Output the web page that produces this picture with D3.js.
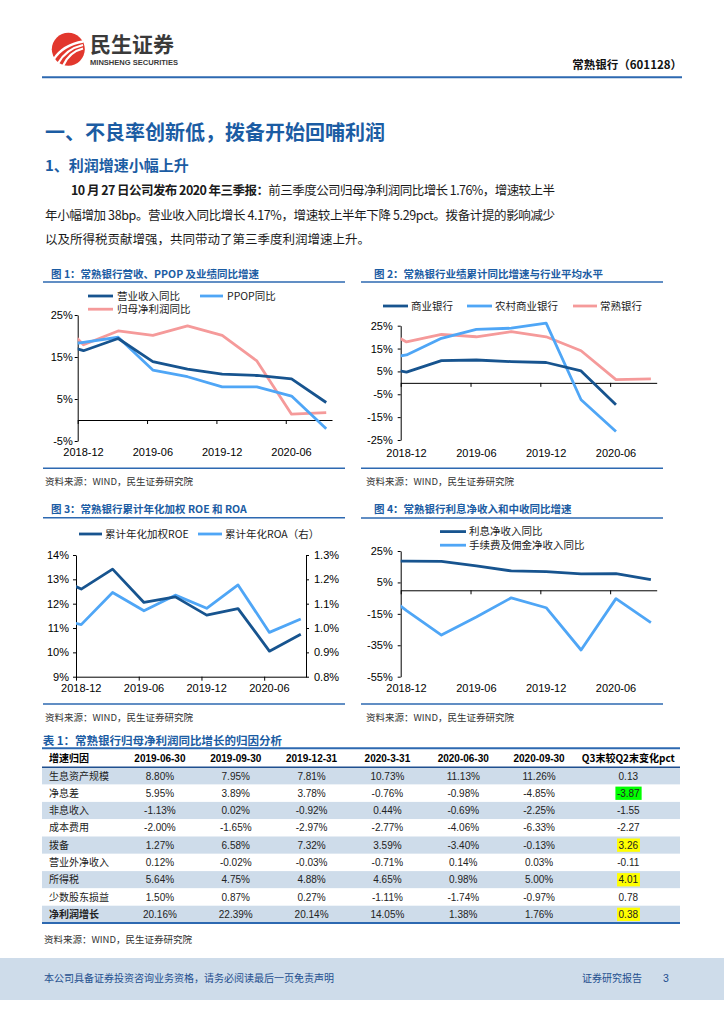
<!DOCTYPE html>
<html><head><meta charset="utf-8">
<script src="https://cdn.jsdelivr.net/npm/d3@7"></script>
<style>
html,body{margin:0;padding:0;background:#fff;}
svg{display:block;}
</style></head><body>
<svg id="page" width="724" height="1024"></svg>
<script>
// ---------------- DATA ----------------
const quarters = ["2018-09","2018-12","2019-03","2019-06","2019-09","2019-12","2020-03","2020-06","2020-09"];
const xTickLabels = ["2018-12","2019-06","2019-12","2020-06"];

// Fig 1
const revenueYoY   = [18.9, 16.5, 19.4, 13.9, 12.1, 10.9, 10.6, 9.8, 4.17];
const ppopYoY      = [17.3, 18.5, 19.7, 11.9, 10.3, 7.9, 7.9, 5.7, -2.1];
const netProfitYoY = [26.3, 17.9, 21.2, 20.16, 22.39, 20.14, 14.05, 1.38, 1.76];
const fig1Ticks = [-5, 5, 15, 25];

// Fig 2
const commercialBanks = [7.7, 4.7, 9.7, 10.0, 9.3, 8.9, 5.2, -9.6, null];
const ruralBanks      = [9.8, 12.2, 19.5, 23.4, 23.9, 26.1, -7.4, -21.3, null];
const changshuBank    = netProfitYoY;
const fig2Ticks = [-25, -15, -5, 5, 15, 25];

// Fig 3
const roe = [13.2, 12.6, 13.42, 12.05, 12.28, 11.53, 11.8, 10.05, 10.74];
const roa = [1.044, 1.014, 1.146, 1.071, 1.135, 1.081, 1.177, 0.982, 1.037];
const fig3LeftTicks = [9, 10, 11, 12, 13, 14];
const fig3RightTicks = [0.8, 0.9, 1.0, 1.1, 1.2, 1.3];

// Fig 4
const netInterestYoY = [18.5, 18.5, 18.4, 15.5, 12.3, 11.9, 10.4, 10.6, 6.8];
const feeYoY         = [3.9, -12.9, -28.5, -17.0, -4.8, -11.1, -38.0, -5.3, -20.6];
const fig4Ticks = [-55, -35, -15, 5, 25];

// Table
const tableHeader = ["增速归因","2019-06-30","2019-09-30","2019-12-31","2020-3-31","2020-06-30","2020-09-30","Q3末较Q2末变化pct"];
const tableRowLabels = ["生息资产规模","净息差","非息收入","成本费用","拨备","营业外净收入","所得税","少数股东损益","净利润增长"];
const tableValues = [
  ["8.80%","7.95%","7.81%","10.73%","11.13%","11.26%"],
  ["5.95%","3.89%","3.78%","-0.76%","-0.98%","-4.85%"],
  ["-1.13%","0.02%","-0.92%","0.44%","-0.69%","-2.25%"],
  ["-2.00%","-1.65%","-2.97%","-2.77%","-4.06%","-6.33%"],
  ["1.27%","6.58%","7.32%","3.59%","-3.40%","-0.13%"],
  ["0.12%","-0.02%","-0.03%","-0.71%","0.14%","0.03%"],
  ["5.64%","4.75%","4.88%","4.65%","0.98%","5.00%"],
  ["1.50%","0.87%","0.27%","-1.11%","-1.74%","-0.97%"],
  ["20.16%","22.39%","20.14%","14.05%","1.38%","1.76%"]
];
const tableChange = ["0.13","-3.87","-1.55","-2.27","3.26","-0.11","4.01","0.78","0.38"];
const tableHighlight = [null,"#00ff00",null,null,"#ffff00",null,"#ffff00",null,"#ffff00"];

// ---------------- STYLE ----------------
const svg = d3.select("#page");
const CJK = "'Noto Sans CJK SC','Noto Sans',sans-serif";
const LAT = "'Liberation Sans',Arial,sans-serif";
const TITLE_BLUE = "#1b5ca3";
const RULE = "#2d69b1";
const DARK = "#17548f";
const LIGHT = "#4fa6f6";
const PINK = "#f59a9a";
const SHADE = "#cedcea";

function fitText(sel, target) {
  const node = sel.node();
  const nat = node.getComputedTextLength();
  const n = node.textContent.length;
  if (n > 1) sel.attr("letter-spacing", ((target - nat) / (n - 1)).toFixed(3));
}

// ---------------- HEADER ----------------
svg.append("circle").attr("cx", 68.3).attr("cy", 49.3).attr("r", 16.5).attr("fill", "#e2372d");
["M54,59 Q63,45 83,41.5", "M58,63.5 Q66,49 83,45", "M63,66 Q69,52 83,48.5"].forEach(p =>
  svg.append("path").attr("d", p).attr("fill", "none").attr("stroke", "#fff").attr("stroke-width", 2.3));
svg.append("text").attr("x", 90).attr("y", 51.5).text("民生证券")
  .attr("font-family", CJK).attr("font-weight", "bold").attr("font-size", 21).attr("fill", "#3a3a3a");
svg.append("text").attr("x", 90).attr("y", 64.5).text("MINSHENG SECURITIES")
  .attr("font-family", LAT).attr("font-weight", "bold").attr("font-size", 7.2).attr("fill", "#3a3a3a")
  .attr("textLength", 88).attr("lengthAdjust", "spacingAndGlyphs");
svg.append("text").attr("x", 682).attr("y", 68.5).attr("text-anchor", "end").text("常熟银行（601128）")
  .attr("font-family", CJK).attr("font-weight", "bold").attr("font-size", 11.5).attr("fill", "#111");
svg.append("line").attr("x1", 42).attr("x2", 682).attr("y1", 77.3).attr("y2", 77.3)
  .attr("stroke", RULE).attr("stroke-width", 2);

// ---------------- TEXT BLOCK ----------------
svg.append("text").attr("x", 45).attr("y", 139.5).text("一、不良率创新低，拨备开始回哺利润")
  .attr("font-family", CJK).attr("font-weight", "bold").attr("font-size", 20).attr("fill", TITLE_BLUE);
svg.append("text").attr("x", 45).attr("y", 170.5).text("1、利润增速小幅上升")
  .attr("font-family", CJK).attr("font-weight", "bold").attr("font-size", 15).attr("fill", TITLE_BLUE);

const p1 = svg.append("text").attr("x", 71).attr("y", 195).attr("font-family", CJK).attr("font-size", 12.5).attr("fill", "#1a1a1a");
p1.append("tspan").attr("font-weight", "bold").text("10 月 27 日公司发布 2020 年三季报：");
p1.append("tspan").text("前三季度公司归母净利润同比增长 1.76%，增速较上半");
fitText(p1, 484);
const p2 = svg.append("text").attr("x", 45).attr("y", 219.5).attr("font-family", CJK).attr("font-size", 12.5).attr("fill", "#1a1a1a")
  .text("年小幅增加 38bp。营业收入同比增长 4.17%，增速较上半年下降 5.29pct。拨备计提的影响减少");
fitText(p2, 510);
svg.append("text").attr("x", 45).attr("y", 244).attr("font-family", CJK).attr("font-size", 12.5).attr("fill", "#1a1a1a")
  .text("以及所得税贡献增强，共同带动了第三季度利润增速上升。");

// ---------------- CHART HELPERS ----------------
const monthIdx = q => { const [yy, mm] = q.split("-").map(Number); return (yy - 2018) * 12 + mm - 12; };

function panelFrame(x0, x1, titleX, titleY, title, ruleY, bottomY, sourceX, sourceY) {
  svg.append("text").attr("x", titleX).attr("y", titleY + 3.8).text(title)
    .attr("font-family", CJK).attr("font-weight", "bold").attr("font-size", 10.5).attr("fill", TITLE_BLUE);
  svg.append("line").attr("x1", x0).attr("x2", x1).attr("y1", ruleY).attr("y2", ruleY).attr("stroke", RULE).attr("stroke-width", 1.6);
  svg.append("line").attr("x1", x0).attr("x2", x1).attr("y1", bottomY).attr("y2", bottomY).attr("stroke", RULE).attr("stroke-width", 1.6);
  svg.append("text").attr("x", sourceX).attr("y", sourceY + 3.4).text("资料来源：WIND，民生证券研究院")
    .attr("font-family", CJK).attr("font-size", 9.5).attr("fill", "#333");
}

function legend(items) {
  items.forEach(it => {
    svg.append("line").attr("x1", it.x1).attr("x2", it.x2).attr("y1", it.y).attr("y2", it.y)
      .attr("stroke", it.color).attr("stroke-width", 2.8);
    svg.append("text").attr("x", it.tx).attr("y", it.y + 3.7).text(it.label)
      .attr("font-family", CJK).attr("font-size", 10.5).attr("fill", "#222");
  });
}

function styleAxis(g) {
  g.attr("font-family", LAT).attr("font-size", 11);
  g.selectAll("path,line").attr("stroke", "#000").attr("stroke-width", 1);
  g.selectAll("text").attr("fill", "#000");
}

let clipCount = 0;
function lineChart(o) {
  const g = svg.append("g");
  const x = d3.scaleLinear().domain([0, 22]).range([o.left, o.right]);
  const y = d3.scaleLinear().domain(o.yDomain).range([o.bottom, o.top]);
  const id = "clip" + (clipCount++);
  svg.append("clipPath").attr("id", id).append("rect")
    .attr("x", o.left).attr("y", o.top - 30).attr("width", o.right - o.left).attr("height", o.bottom - o.top + 60);

  const ya = g.append("g").attr("transform", `translate(${o.left},0)`)
    .call(d3.axisLeft(y).tickValues(o.yTicks).tickSize(3).tickSizeOuter(0).tickPadding(o.pad).tickFormat(o.fmt));
  styleAxis(ya);

  let y2 = null;
  if (o.y2Domain) {
    y2 = d3.scaleLinear().domain(o.y2Domain).range([o.bottom, o.top]);
    const ya2 = g.append("g").attr("transform", `translate(${o.right},0)`)
      .call(d3.axisRight(y2).tickValues(o.y2Ticks).tickSize(3).tickSizeOuter(0).tickPadding(5).tickFormat(o.fmt2));
    styleAxis(ya2);
  }

  const axisY = o.xAxisAt != null ? y(o.xAxisAt) : o.bottom;
  const xa = g.append("g").attr("transform", `translate(0,${axisY})`)
    .call(d3.axisBottom(x).tickValues([0, 6, 12, 18]).tickSize(4).tickSizeOuter(0).tickFormat(""));
  styleAxis(xa);

  g.selectAll("text.xlab").data(xTickLabels).join("text").attr("class", "xlab")
    .attr("x", (d, i) => x(i * 6 + 0.5)).attr("y", o.xLabelY + 4)
    .attr("text-anchor", "middle").attr("font-family", LAT).attr("font-size", 11).attr("fill", "#000").text(d => d);

  const lg = g.append("g").attr("clip-path", `url(#${id})`);
  o.series.forEach(s => {
    const sc = s.right ? y2 : y;
    const pts = quarters.map((q, i) => ({ q, v: s.values[i] }));
    const line = d3.line().defined(d => d.v != null)
      .x(d => x(monthIdx(d.q) + 0.5)).y(d => sc(d.v));
    lg.append("path").datum(pts).attr("d", line).attr("fill", "none")
      .attr("stroke", s.color).attr("stroke-width", 2.8).attr("stroke-linejoin", "round");
  });
}

const pct = d => d + "%";

// ---------------- FIG 1 ----------------
panelFrame(43, 345, 51, 274, "图 1：常熟银行营收、PPOP 及业绩同比增速", 282, 468.3, 45, 482);
legend([
  { label: "营业收入同比", color: DARK, x1: 88, x2: 113, y: 296, tx: 117 },
  { label: "PPOP同比", color: LIGHT, x1: 200, x2: 223, y: 296, tx: 227 },
  { label: "归母净利润同比", color: PINK, x1: 88, x2: 113, y: 309.2, tx: 117 }
]);
lineChart({
  left: 77.7, right: 332, top: 315, bottom: 441, yDomain: [-5, 25], yTicks: fig1Ticks, fmt: pct, pad: 2,
  xAxisAt: 0, xLabelY: 452,
  series: [
    { values: netProfitYoY, color: PINK },
    { values: ppopYoY, color: LIGHT },
    { values: revenueYoY, color: DARK }
  ]
});

// ---------------- FIG 2 ----------------
panelFrame(361, 663, 374, 274, "图 2：常熟银行业绩累计同比增速与行业平均水平", 282, 468.3, 366, 482);
legend([
  { label: "商业银行", color: DARK, x1: 383, x2: 408, y: 306, tx: 411 },
  { label: "农村商业银行", color: LIGHT, x1: 467, x2: 492, y: 306, tx: 495 },
  { label: "常熟银行", color: PINK, x1: 573, x2: 597, y: 306, tx: 600 }
]);
lineChart({
  left: 400.7, right: 656.7, top: 325.7, bottom: 440, yDomain: [-25, 25], yTicks: fig2Ticks, fmt: pct, pad: 5,
  xAxisAt: 0, xLabelY: 453,
  series: [
    { values: changshuBank, color: PINK },
    { values: ruralBanks, color: LIGHT },
    { values: commercialBanks, color: DARK }
  ]
});

// ---------------- FIG 3 ----------------
panelFrame(43, 345, 51, 509, "图 3：常熟银行累计年化加权 ROE 和 ROA", 517.7, 704, 45, 717.7);
legend([
  { label: "累计年化加权ROE", color: DARK, x1: 79, x2: 102, y: 534, tx: 105 },
  { label: "累计年化ROA（右）", color: LIGHT, x1: 198, x2: 222, y: 534, tx: 225 }
]);
lineChart({
  left: 76, right: 306, top: 555, bottom: 676.7, yDomain: [9, 14], yTicks: fig3LeftTicks, fmt: pct, pad: 4,
  y2Domain: [0.8, 1.3], y2Ticks: fig3RightTicks, fmt2: d => d.toFixed(1) + "%",
  xAxisAt: null, xLabelY: 688,
  series: [
    { values: roa, color: LIGHT, right: true },
    { values: roe, color: DARK }
  ]
});

// ---------------- FIG 4 ----------------
panelFrame(361, 663, 374, 509, "图 4：常熟银行利息净收入和中收同比增速", 518, 704, 366, 717.7);
legend([
  { label: "利息净收入同比", color: DARK, x1: 440, x2: 466, y: 531.6, tx: 469 },
  { label: "手续费及佣金净收入同比", color: LIGHT, x1: 440, x2: 466, y: 545.2, tx: 469 }
]);
lineChart({
  left: 400.7, right: 656.7, top: 551, bottom: 676.7, yDomain: [-55, 25], yTicks: fig4Ticks, fmt: pct, pad: 5,
  xAxisAt: 0, xLabelY: 688,
  series: [
    { values: feeYoY, color: LIGHT },
    { values: netInterestYoY, color: DARK }
  ]
});

// ---------------- TABLE ----------------
svg.append("text").attr("x", 42.7).attr("y", 744.8).text("表 1：常熟银行归母净利润同比增长的归因分析")
  .attr("font-family", CJK).attr("font-weight", "bold").attr("font-size", 11.5).attr("fill", TITLE_BLUE);

const tblLeft = 42, tblRight = 680, headTop = 748.3, headBottom = 767.3;
const rowY = d3.scaleBand().domain(d3.range(tableRowLabels.length)).range([headBottom, 923]);
const colX = d3.scaleBand().domain(d3.range(6)).range([122, 577]);
const chgX = 628.3;

const tg = svg.append("g");
tg.selectAll("rect.shade").data(tableRowLabels).join("rect").attr("class", "shade")
  .attr("x", tblLeft).attr("width", tblRight - tblLeft)
  .attr("y", (d, i) => rowY(i)).attr("height", rowY.bandwidth())
  .attr("fill", (d, i) => i % 2 === 0 ? SHADE : "#fff");

// header
tg.selectAll("text.hd").data(tableHeader).join("text").attr("class", "hd")
  .attr("x", (d, i) => i === 0 ? 49 : (i === 7 ? chgX : colX(i - 1) + colX.bandwidth() / 2))
  .attr("y", (headTop + headBottom) / 2 + 3.8)
  .attr("text-anchor", (d, i) => i === 0 ? "start" : "middle")
  .attr("font-family", (d, i) => (i === 0 || i === 7) ? CJK : LAT)
  .attr("font-weight", "bold").attr("font-size", 10).attr("fill", "#000").text(d => d);

// row labels
tg.selectAll("text.rl").data(tableRowLabels).join("text").attr("class", "rl")
  .attr("x", 49).attr("y", (d, i) => rowY(i) + rowY.bandwidth() / 2 + 3.6)
  .attr("font-family", CJK).attr("font-size", 10)
  .attr("font-weight", (d, i) => i === tableRowLabels.length - 1 ? "bold" : "normal")
  .attr("fill", "#222").text(d => d);

// values
tableValues.forEach((row, ri) => {
  tg.selectAll(null).data(row).join("text")
    .attr("x", (d, ci) => colX(ci) + colX.bandwidth() / 2)
    .attr("y", rowY(ri) + rowY.bandwidth() / 2 + 3.6)
    .attr("text-anchor", "middle").attr("font-family", LAT).attr("font-size", 10).attr("fill", "#222").text(d => d);
});

// change column with highlights
tableChange.forEach((v, ri) => {
  const t = tg.append("text").attr("x", chgX).attr("y", rowY(ri) + rowY.bandwidth() / 2 + 3.6)
    .attr("text-anchor", "middle").attr("font-family", LAT).attr("font-size", 10).attr("fill", "#222").text(v);
  if (tableHighlight[ri]) {
    const bb = t.node().getBBox();
    tg.insert("rect", () => t.node()).attr("x", bb.x - 1.5).attr("width", bb.width + 3)
      .attr("y", rowY(ri) + 2).attr("height", rowY.bandwidth() - 4).attr("fill", tableHighlight[ri]);
  }
});

svg.append("line").attr("x1", tblLeft).attr("x2", tblRight).attr("y1", headTop).attr("y2", headTop).attr("stroke", RULE).attr("stroke-width", 2);
svg.append("line").attr("x1", tblLeft).attr("x2", tblRight).attr("y1", headBottom).attr("y2", headBottom).attr("stroke", "#1f4f8f").attr("stroke-width", 1.6);
svg.append("line").attr("x1", tblLeft).attr("x2", tblRight).attr("y1", 923).attr("y2", 923).attr("stroke", RULE).attr("stroke-width", 2);

svg.append("text").attr("x", 44).attr("y", 940 + 3.4).text("资料来源：WIND，民生证券研究院")
  .attr("font-family", CJK).attr("font-size", 9.5).attr("fill", "#333");

// ---------------- FOOTER ----------------
svg.append("rect").attr("x", 0).attr("y", 958).attr("width", 724).attr("height", 42).attr("fill", SHADE);
svg.append("text").attr("x", 44).attr("y", 981.5).text("本公司具备证券投资咨询业务资格，请务必阅读最后一页免责声明")
  .attr("font-family", CJK).attr("font-size", 10).attr("fill", "#1f4f8f");
svg.append("text").attr("x", 582).attr("y", 981.5).text("证券研究报告")
  .attr("font-family", CJK).attr("font-size", 10).attr("fill", "#1f4f8f");
svg.append("text").attr("x", 663).attr("y", 981.5).text("3")
  .attr("font-family", LAT).attr("font-size", 10.5).attr("fill", "#1f4f8f");
</script>
</body></html>
